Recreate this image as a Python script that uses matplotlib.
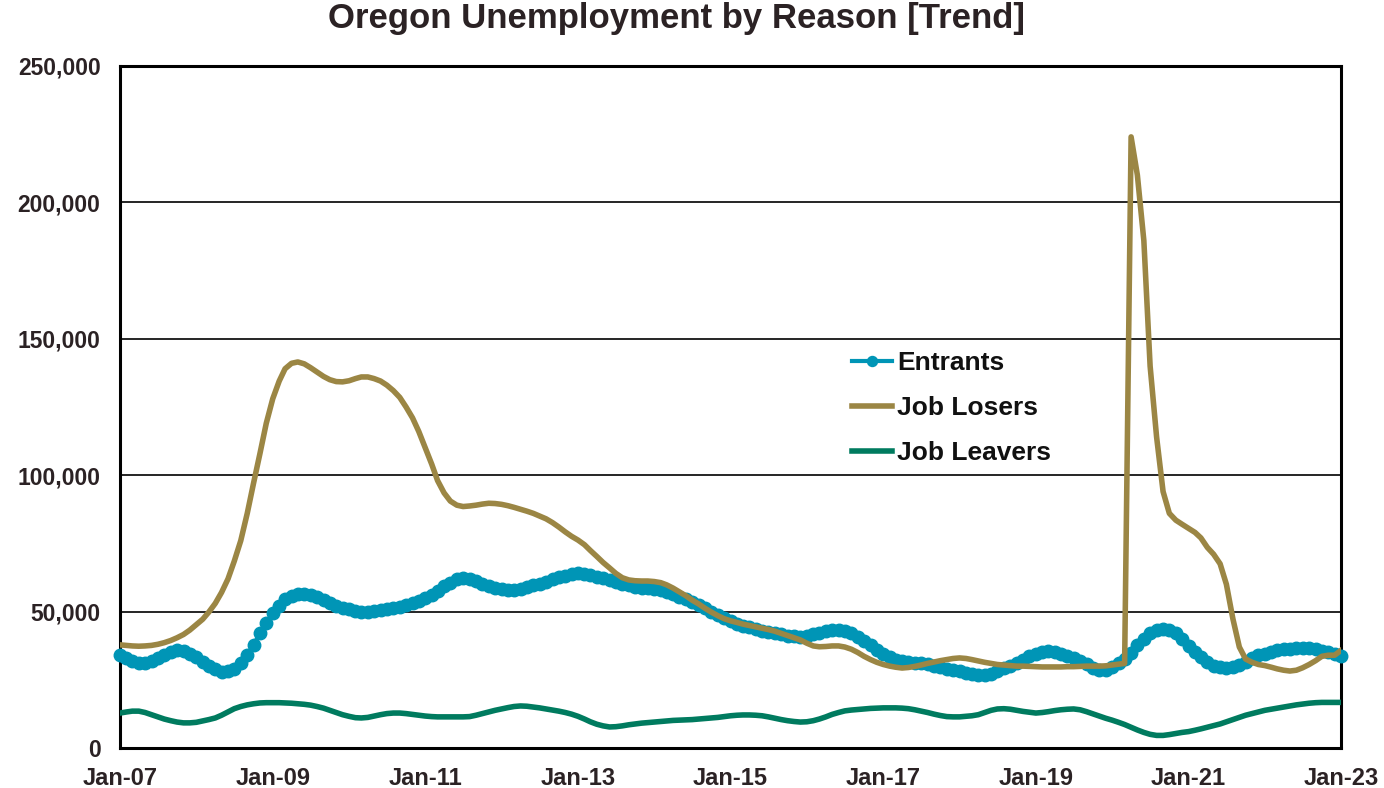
import numpy as np
import pandas as pd
import matplotlib
matplotlib.use("Agg")
from matplotlib import pyplot as plt
from matplotlib.ticker import FuncFormatter

# monthly trend values, thousands, Jan-07 .. Jan-23
dates = pd.date_range("2007-01-01", "2023-01-01", freq="MS")

entrants = [
    34.0, 33.0, 32.0, 31.3, 31.2, 31.8, 32.8, 34.0, 35.0, 35.8, 35.6, 34.6,
    33.2, 31.6, 30.0, 28.8, 28.0, 28.1, 29.0, 31.0, 34.2, 37.8, 42.0, 45.8,
    49.4, 52.2, 54.6, 55.8, 56.4, 56.5, 56.0, 55.2, 54.2, 53.2, 52.2, 51.4,
    50.8, 50.3, 50.0, 50.0, 50.2, 50.5, 50.8, 51.2, 51.8, 52.4, 53.0, 53.8,
    54.8, 56.0, 57.6, 59.2, 60.6, 61.8, 62.2, 62.0, 61.2, 60.2, 59.2, 58.6,
    58.2, 58.0, 58.0, 58.4, 59.0, 59.6, 60.2, 61.0, 61.8, 62.6, 63.2, 63.6,
    64.0, 63.8, 63.4, 62.8, 62.2, 61.6, 61.0, 60.2, 59.6, 59.0, 58.8, 58.6,
    58.2, 57.8, 57.2, 56.4, 55.5, 54.6, 53.5, 52.4, 51.3, 50.0, 48.8, 47.6,
    46.6, 45.6, 44.8, 44.2, 43.6, 43.0, 42.4, 42.0, 41.6, 41.2, 40.9, 40.8,
    41.0, 41.6, 42.2, 42.8, 43.2, 43.2, 42.8, 42.0, 40.8, 39.2, 37.6, 36.0,
    34.6, 33.4, 32.4, 31.8, 31.4, 31.2, 31.0, 30.6, 30.2, 29.6, 29.0, 28.6,
    28.2, 27.6, 27.0, 26.6, 26.6, 27.2, 28.2, 29.3, 30.2, 31.0, 32.2, 33.6,
    34.6, 35.2, 35.4, 35.0, 34.4, 33.6, 32.8, 31.8, 30.6, 29.4, 28.6, 28.6,
    29.6, 31.0, 32.6, 34.8, 37.6, 40.0, 42.0, 43.2, 43.6, 43.2, 42.0, 40.0,
    37.4, 35.2, 33.2, 31.4, 30.2, 29.6, 29.4, 29.6, 30.4, 31.6, 33.0, 34.0,
    34.6, 35.2, 35.8, 36.2, 36.4, 36.6, 36.8, 36.6, 36.2, 35.6, 35.0, 34.4,
    33.6,
]

job_losers = [
    37.8, 37.6, 37.4, 37.3, 37.4, 37.6, 38.0, 38.6, 39.4, 40.4, 41.6, 43.2,
    45.2, 47.2, 49.8, 53.0, 57.0, 62.0, 68.5, 76.0, 86.0, 97.0, 108.0, 119.0,
    128.0, 134.5, 139.0, 141.0, 141.5, 140.8, 139.4, 137.8, 136.2, 135.0, 134.3, 134.2,
    134.6, 135.4, 136.0, 136.0, 135.4, 134.5, 133.0, 131.0, 128.5, 125.0, 121.0, 116.0,
    110.0, 104.0, 98.0, 93.5, 90.5, 89.0, 88.5, 88.7, 89.0, 89.4, 89.7, 89.6,
    89.3, 88.8, 88.2, 87.5, 86.8, 86.0, 85.0, 84.0, 82.6, 81.0, 79.2, 77.6,
    76.2, 74.5, 72.4, 70.2, 68.0, 66.0, 64.0, 62.4, 61.6, 61.3, 61.2, 61.2,
    61.0, 60.6, 59.8, 58.6, 57.2, 55.8, 54.2, 52.8, 51.2, 49.8, 48.5, 47.4,
    46.6, 46.0, 45.4, 44.9, 44.4, 43.9, 43.4, 42.8, 42.0, 41.2, 40.4, 39.6,
    38.4, 37.4, 37.1, 37.2, 37.4, 37.4, 37.0, 36.2, 35.0, 33.6, 32.4, 31.4,
    30.6, 30.0, 29.6, 29.3, 29.5, 29.9, 30.4, 31.0, 31.5, 32.0, 32.4, 32.8,
    33.0, 32.8, 32.4, 31.9, 31.4, 31.0, 30.6, 30.4, 30.2, 30.0, 30.0, 29.9,
    29.8, 29.7, 29.7, 29.7, 29.7, 29.8, 29.8, 29.9, 30.0, 30.0, 30.0, 30.1,
    30.4, 30.7, 31.0, 224.0, 210.0, 186.0, 140.0, 114.0, 94.0, 86.0, 83.5, 82.0,
    80.5, 79.0, 77.0, 73.5, 71.0, 67.5, 60.0, 47.4, 37.0, 32.6, 31.4, 30.6,
    30.2, 29.6, 29.0, 28.5, 28.2, 28.5, 29.4, 30.6, 32.0, 33.6, 34.0, 34.0,
    35.8,
]

job_leavers = [
    12.8, 13.2, 13.5, 13.5, 13.0, 12.2, 11.4, 10.6, 10.0, 9.5, 9.2, 9.2,
    9.4, 9.9, 10.4, 11.0, 12.0, 13.2, 14.4, 15.2, 15.8, 16.2, 16.5, 16.6,
    16.6, 16.6, 16.5, 16.4, 16.2, 16.0, 15.7, 15.2, 14.6, 13.8, 13.0, 12.2,
    11.6, 11.1, 11.0, 11.2, 11.7, 12.2, 12.6, 12.8, 12.8, 12.6, 12.3, 12.0,
    11.7, 11.5, 11.4, 11.4, 11.4, 11.4, 11.4, 11.5, 12.0, 12.6, 13.2, 13.8,
    14.3, 14.8, 15.2, 15.4, 15.3, 15.0, 14.7, 14.3, 13.9, 13.5, 13.0, 12.4,
    11.6, 10.6, 9.6, 8.7, 8.1, 7.7, 7.8, 8.1, 8.5, 8.8, 9.1, 9.3,
    9.5, 9.7, 9.9, 10.1, 10.2, 10.3, 10.4, 10.6, 10.8, 11.0, 11.2, 11.5,
    11.8, 12.0, 12.1, 12.1, 12.0, 11.8, 11.4, 10.9, 10.4, 10.0, 9.7, 9.5,
    9.6, 10.0, 10.6, 11.4, 12.3, 13.0, 13.6, 13.9, 14.1, 14.3, 14.5, 14.6,
    14.7, 14.7, 14.7, 14.6, 14.4, 14.0, 13.5, 13.0, 12.4, 11.9, 11.5, 11.4,
    11.4, 11.6, 11.8, 12.2, 13.0, 13.8, 14.3, 14.4, 14.2, 13.8, 13.4, 13.1,
    12.8, 13.0, 13.3, 13.7, 14.0, 14.2, 14.3, 14.0, 13.3, 12.5, 11.7, 10.9,
    10.2, 9.4, 8.6, 7.6, 6.6, 5.7, 5.0, 4.6, 4.6, 4.9, 5.3, 5.7,
    6.0, 6.5, 7.0, 7.6, 8.2, 8.8, 9.6, 10.4, 11.2, 12.0, 12.6, 13.2,
    13.8, 14.2, 14.6, 15.0, 15.4, 15.8, 16.1, 16.4, 16.6, 16.7, 16.7, 16.7,
    16.7,
]

tick_years = list(range(2007, 2024, 2))
tick_labels = ["Jan-%02d" % (y % 100) for y in tick_years]

plt.rcParams['font.family'] = ['Liberation Sans', 'DejaVu Sans']
text_col = "#2b2224"

fig = plt.figure(figsize=(13.84, 7.88), dpi=100)
ax = fig.add_axes([0.0867, 0.0508, 0.8823, 0.8655])

ax.plot(dates, np.array(entrants) * 1000, color="#0095b6", lw=3,
        marker="o", markersize=9, label="Entrants", zorder=3, clip_on=False)
ax.plot(dates, np.array(job_losers) * 1000, color="#9b8644", lw=4,
        label="Job Losers", zorder=4)
ax.plot(dates, np.array(job_leavers) * 1000, color="#007b5f", lw=4,
        label="Job Leavers", zorder=4)

ax.set_xlim(dates[0], dates[-1])
ax.set_ylim(0, 250000)
ax.set_yticks(range(0, 250001, 50000))
ax.yaxis.set_major_formatter(FuncFormatter(lambda v, p: "{:,.0f}".format(v)))
ax.set_xticks([pd.Timestamp(y, 1, 1) for y in tick_years])
ax.set_xticklabels(tick_labels)
ax.grid(axis="y", color="black", lw=1.2)
ax.set_axisbelow(True)
ax.tick_params(axis="y", length=0, labelsize=16.5, pad=14, colors=text_col)
ax.tick_params(axis="x", length=0, labelsize=17, pad=14, colors=text_col)
for lab in ax.get_xticklabels() + ax.get_yticklabels():
    lab.set_fontweight("bold")
for s in ax.spines.values():
    s.set_linewidth(2.2)
    s.set_color("black")

fig.suptitle("Oregon Unemployment by Reason [Trend]", x=0.489, y=0.998,
             fontsize=25, fontweight="bold", color=text_col)

leg = ax.legend(loc="upper left", bbox_to_anchor=(0.58, 0.617), frameon=False,
                prop={"size": 19, "weight": "bold"}, handlelength=1.5,
                handletextpad=0.2, labelspacing=0.8, markerscale=0.8)
for t in leg.get_texts():
    t.set_color("#111111")

fig.savefig("out.png", dpi=100)
plt.close()
